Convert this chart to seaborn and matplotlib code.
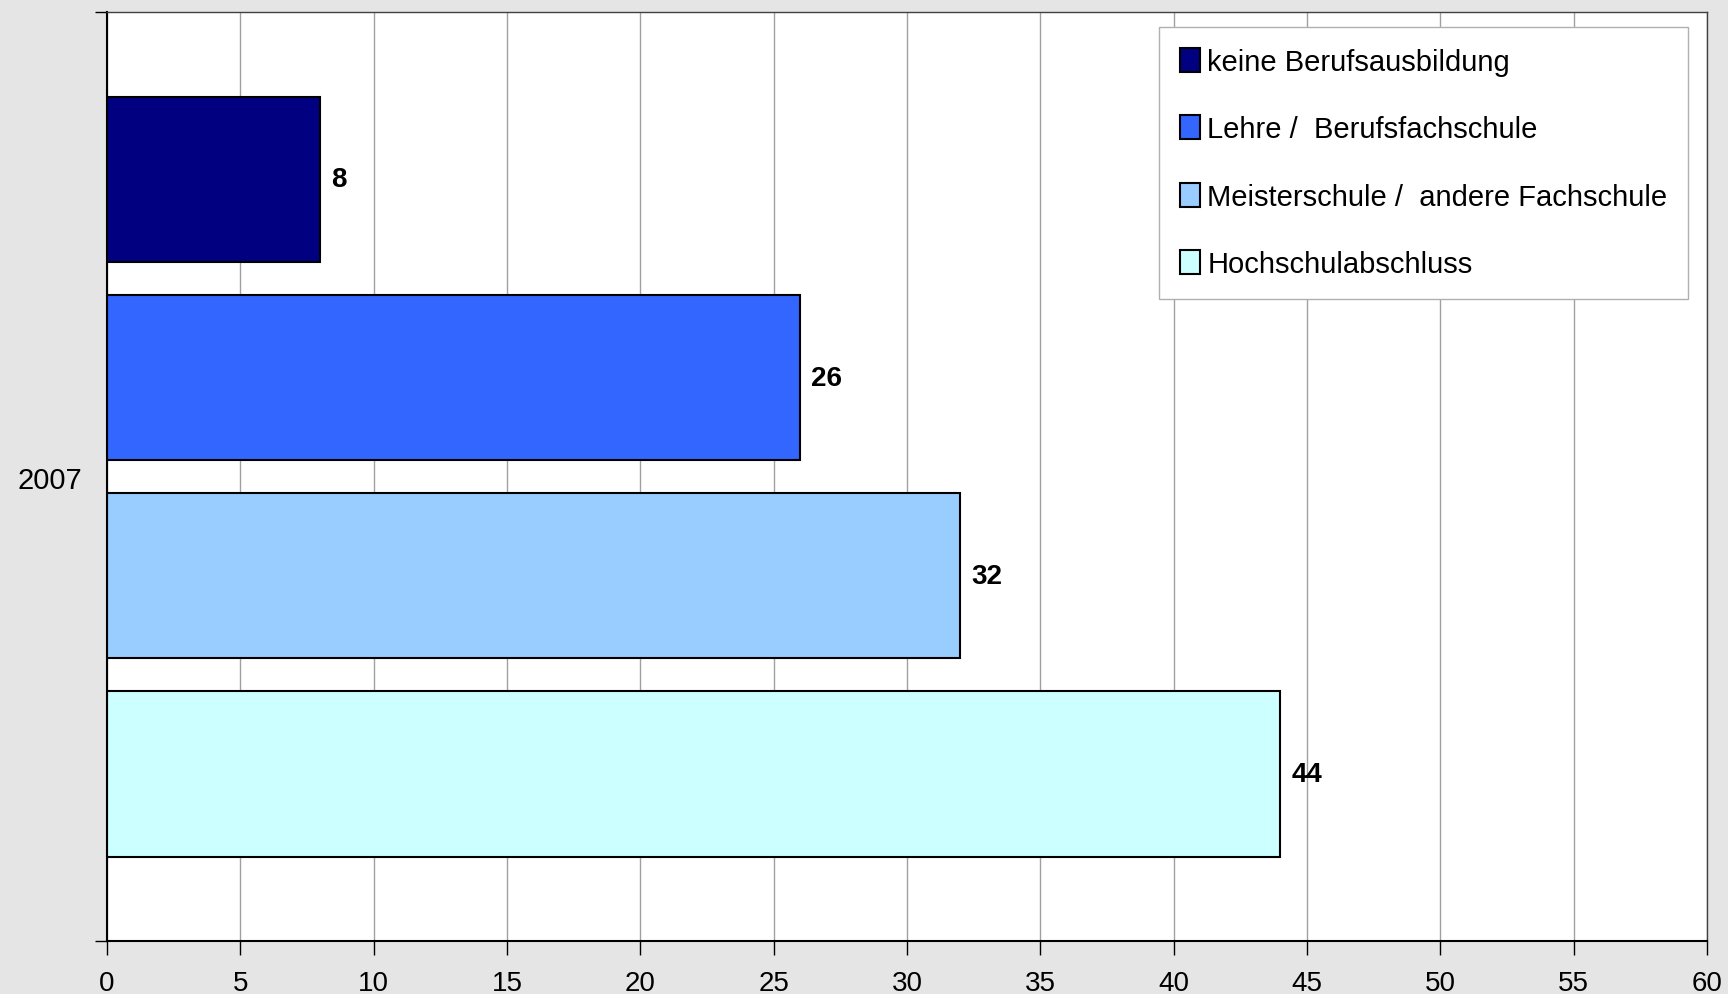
import pandas as pd
import numpy as np
import matplotlib.pyplot as plt
import seaborn as sns

years = ['2007']
categories = ['keine Berufsausbildung', 'Lehre /  Berufsfachschule',
              'Meisterschule /  andere Fachschule', 'Hochschulabschluss']
values = [8, 26, 32, 44]
colors = ['#000080', '#3366ff', '#99ccff', '#ccffff']

df = pd.DataFrame({'Jahr': years * len(categories), 'Abschluss': categories, 'Wert': values})

sns.set_style('white')
plt.rcParams['font.family'] = ['Liberation Sans', 'DejaVu Sans']
plt.rcParams['text.color'] = 'black'
plt.rcParams['xtick.color'] = 'black'
plt.rcParams['ytick.color'] = 'black'

fig = plt.figure(figsize=(17.28, 9.95), dpi=100, facecolor='#e5e5e5')
ax = fig.add_axes([0.0619, 0.0532, 0.926, 0.9335])
ax.set_facecolor('white')

sns.barplot(data=df, x='Wert', y='Jahr', hue='Abschluss', hue_order=categories,
            palette=colors, saturation=1, orient='h', width=0.8, gap=0.167,
            edgecolor='black', linewidth=1.5, ax=ax, legend=True)

for cont in ax.containers:
    ax.bar_label(cont, fmt='%d', padding=8, fontsize=20, fontweight='bold', color='black')

ax.set_xlim(0, 60)
ax.set_ylim(0.4685, -0.4685)
ax.set_xticks(np.arange(0, 61, 5))
ax.xaxis.grid(True, color='#a0a0a0', linewidth=1)
ax.set_axisbelow(True)
ax.set_xlabel('')
ax.set_ylabel('')
ax.tick_params(axis='x', direction='out', length=10, width=1, color='black',
               labelsize=20, pad=11, bottom=True, labelcolor='black')
ax.tick_params(axis='y', which='major', length=0, labelsize=21, pad=18, labelcolor='black')
ax.set_yticks([-0.4685, 0.4685], minor=True)
ax.tick_params(axis='y', which='minor', direction='out', length=9, width=1, color='black', left=True)

for s in ['top', 'right']:
    ax.spines[s].set_color('#404040')
    ax.spines[s].set_linewidth(1)
for s in ['left', 'bottom']:
    ax.spines[s].set_color('black')
    ax.spines[s].set_linewidth(1.5)

leg = ax.legend(loc='upper right', bbox_to_anchor=(0.988, 0.984), fontsize=21,
                frameon=True, fancybox=False, edgecolor='#b0b0b0', framealpha=1,
                handlelength=0.7, handleheight=0.9, handletextpad=0.25,
                labelspacing=1.35, borderpad=0.7, borderaxespad=0)
leg.get_frame().set_linewidth(1)
for h in leg.legend_handles:
    h.set_edgecolor('black')
    h.set_linewidth(1.5)
for t in leg.get_texts():
    t.set_color('black')

fig.savefig('out.png', dpi=100, facecolor=fig.get_facecolor())
